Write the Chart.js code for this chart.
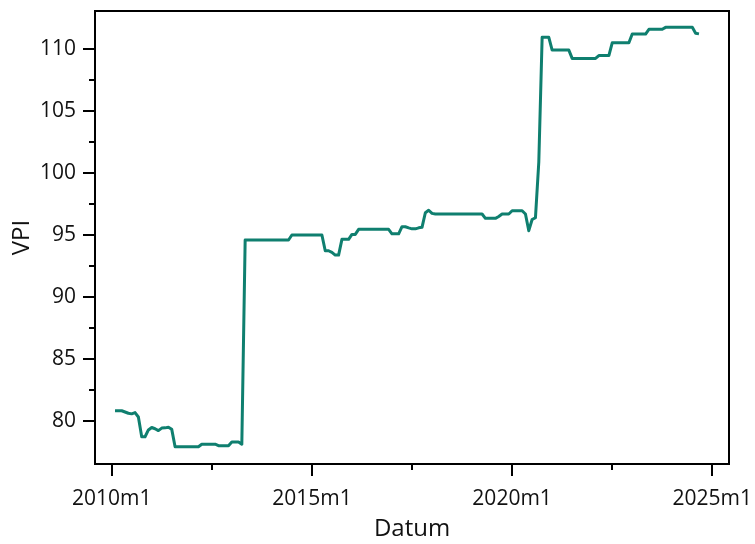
<!DOCTYPE html>
<html><head><meta charset="utf-8">
<script src="https://cdn.jsdelivr.net/npm/chart.js@4.4.1/dist/chart.umd.min.js"></script>
<style>html,body{margin:0;padding:0;background:#fff}#wrap{width:755px;height:544px}</style>
</head><body><div id="wrap"><canvas id="c" width="755" height="544"></canvas></div>
<script>
// first observation: 2010m2, monthly
const firstYear = 2010, firstMonth = 2;
const vpi = [
  80.8, 80.8, 80.8, 80.7, 80.6, 80.55, 80.65, 80.3, 78.7, 78.7,
  79.25, 79.45, 79.35, 79.2, 79.4, 79.42, 79.47, 79.3,
  77.9, 77.9, 77.9, 77.9, 77.9, 77.9, 77.9, 77.9,
  78.1, 78.1, 78.1, 78.1, 78.1,
  77.98, 77.98, 77.98, 77.98,
  78.28, 78.28, 78.28, 78.1,
  94.6, 94.6, 94.6, 94.6, 94.6, 94.6, 94.6, 94.6, 94.6, 94.6, 94.6, 94.6, 94.6, 94.6,
  95.0, 95.0, 95.0, 95.0, 95.0, 95.0, 95.0, 95.0, 95.0, 95.0,
  93.73, 93.73, 93.6, 93.38, 93.38,
  94.65, 94.65, 94.65, 95.05, 95.05,
  95.46, 95.46, 95.46, 95.46, 95.46, 95.46, 95.46, 95.46, 95.46, 95.46,
  95.1, 95.1, 95.1, 95.67, 95.67, 95.58, 95.5, 95.5, 95.58, 95.62,
  96.8, 97.0, 96.75,
  96.7, 96.7, 96.7, 96.7, 96.7, 96.7, 96.7, 96.7, 96.7, 96.7, 96.7, 96.7, 96.7, 96.7, 96.7,
  96.35, 96.35, 96.35, 96.35, 96.5,
  96.7, 96.7, 96.7,
  96.96, 96.96, 96.96, 96.96, 96.7, 95.35, 96.25, 96.4, 100.9,
  110.97, 110.97, 110.97,
  109.94, 109.94, 109.94, 109.94, 109.94, 109.94,
  109.27, 109.27, 109.27, 109.27, 109.27, 109.27, 109.27, 109.27,
  109.5, 109.5, 109.5, 109.5,
  110.53, 110.53, 110.53, 110.53, 110.53, 110.53,
  111.24, 111.24, 111.24, 111.24, 111.24,
  111.62, 111.62, 111.62, 111.62, 111.62,
  111.78, 111.78, 111.78, 111.78, 111.78, 111.78, 111.78, 111.78, 111.78,
  111.3, 111.25
];
const xTickLabels = ['2010m1', '2015m1', '2020m1', '2025m1'];
const xMinorLabels = ['2012m7', '2017m7', '2022m7'];
const yTickValues = [80, 85, 90, 95, 100, 105, 110];
const yMinorValues = [82.5, 87.5, 92.5, 97.5, 102.5, 107.5];

// month index relative to 2010m1
function monthIndex(lbl) {
  const [y, m] = lbl.split('m').map(Number);
  return (y - 2010) * 12 + (m - 1);
}
const dateLabels = vpi.map((_, i) => {
  const t = (firstYear * 12 + firstMonth - 1) + i;
  return Math.floor(t / 12) + 'm' + (t % 12 + 1);
});
const points = vpi.map((v, i) => ({ x: monthIndex(dateLabels[i]), y: v }));
const xTickValues = xTickLabels.map(monthIndex);
const xMinorValues = xMinorLabels.map(monthIndex);

const FONT = "'Open Sans', 'Noto Sans', sans-serif";

const frameTicks = {
  id: 'frameTicks',
  afterDraw(chart) {
    const { ctx, chartArea: a, scales: { x, y } } = chart;
    ctx.save();
    ctx.strokeStyle = '#000';
    ctx.lineWidth = 2;
    ctx.strokeRect(a.left, a.top, a.right - a.left, a.bottom - a.top);
    ctx.beginPath();
    yTickValues.forEach(v => { const p = Math.round(y.getPixelForValue(v)); ctx.moveTo(a.left, p); ctx.lineTo(a.left - 12, p); });
    yMinorValues.forEach(v => { const p = Math.round(y.getPixelForValue(v)); ctx.moveTo(a.left, p); ctx.lineTo(a.left - 6, p); });
    xTickValues.forEach(v => { const p = Math.round(x.getPixelForValue(v)); ctx.moveTo(p, a.bottom); ctx.lineTo(p, a.bottom + 12); });
    xMinorValues.forEach(v => { const p = Math.round(x.getPixelForValue(v)); ctx.moveTo(p, a.bottom); ctx.lineTo(p, a.bottom + 6); });
    ctx.stroke();
    ctx.restore();
  }
};

new Chart(document.getElementById('c'), {
  type: 'line',
  data: {
    datasets: [{
      label: 'VPI',
      data: points,
      borderColor: '#0f7f6f',
      borderWidth: 3,
      pointRadius: 0,
      tension: 0,
      fill: false,
      borderJoinStyle: 'round'
    }]
  },
  options: {
    responsive: false,
    animation: false,
    devicePixelRatio: 1,
    layout: { padding: { top: 11, right: 26, left: 0, bottom: 0 } },
    plugins: { legend: { display: false }, tooltip: { enabled: false } },
    scales: {
      x: {
        type: 'linear',
        min: -5, max: 185,
        afterBuildTicks: s => { s.ticks = xTickValues.map(v => ({ value: v })); },
        afterFit: s => { s.height = 80; s.paddingLeft = 0; s.paddingRight = 0; },
        grid: { drawOnChartArea: false, drawTicks: false },
        border: { display: false },
        ticks: {
          autoSkip: false, maxRotation: 0, padding: 22,
          color: '#111', font: { family: FONT, size: 21 },
          callback: v => xTickLabels[xTickValues.indexOf(v)]
        },
        title: { display: true, text: 'Datum', color: '#111', font: { family: FONT, size: 24 }, padding: { top: 0, bottom: 0 } }
      },
      y: {
        min: 76.5, max: 113.1,
        afterBuildTicks: s => { s.ticks = yTickValues.map(v => ({ value: v })); },
        afterFit: s => { s.width = 95; s.paddingTop = 0; s.paddingBottom = 0; },
        grid: { drawOnChartArea: false, drawTicks: false },
        border: { display: false },
        ticks: {
          autoSkip: false, padding: 19,
          color: '#111', font: { family: FONT, size: 21 },
          callback: v => String(v)
        },
        title: { display: true, text: 'VPI', color: '#111', font: { family: FONT, size: 24 }, padding: { top: 8, bottom: 0 } }
      }
    }
  },
  plugins: [frameTicks]
});
</script>
</body></html>
